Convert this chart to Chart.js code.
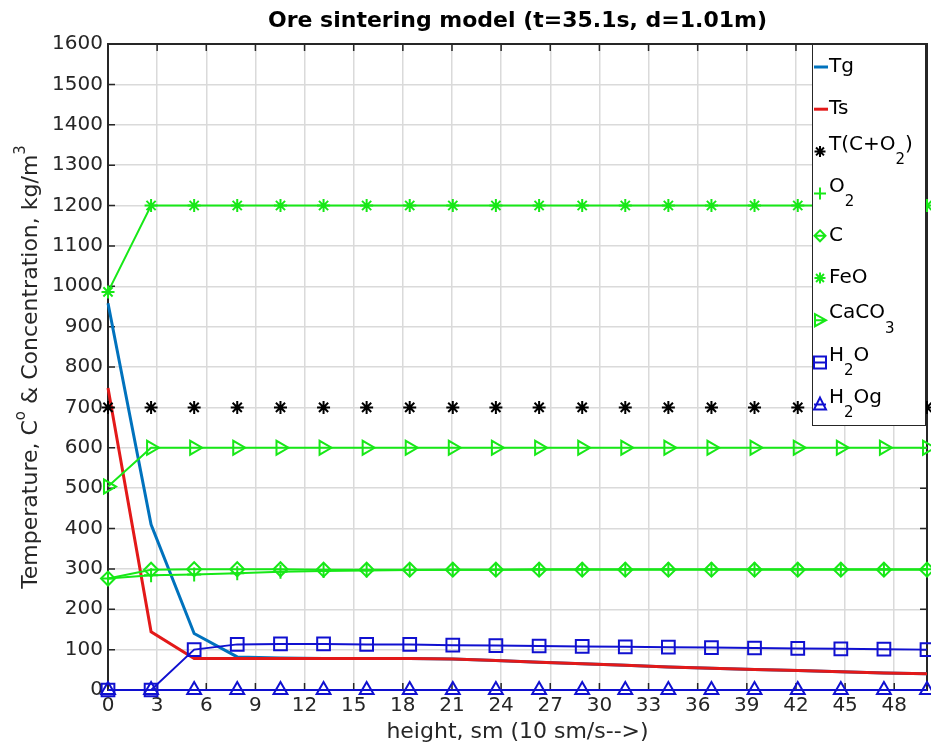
<!DOCTYPE html>
<html>
<head>
<meta charset="utf-8">
<script src="https://cdn.jsdelivr.net/npm/chart.js@4.4.0/dist/chart.umd.min.js"></script>
<style>
  html, body { margin: 0; padding: 0; background: #fff; overflow: hidden; }
  canvas { display: block; }
</style>
</head>
<body>
<canvas id="myChart" width="931" height="747"></canvas>
<script>
var heights = [0, 2.63, 5.26, 7.89, 10.53, 13.16, 15.79, 18.42, 21.05, 23.68, 26.32, 28.95, 31.58, 34.21, 36.84, 39.47, 42.11, 44.74, 47.37, 50];
var tg    = [958, 410, 140, 82, 79, 78, 78, 78, 77, 73, 69, 65, 61, 57, 54, 51, 48, 45, 42, 40];
var ts    = [748, 144, 78, 78, 78, 78, 78, 78, 77, 73, 69, 65, 61, 57, 54, 51, 48, 45, 42, 40];
var tco2  = [700, 700, 700, 700, 700, 700, 700, 700, 700, 700, 700, 700, 700, 700, 700, 700, 700, 700, 700, 700];
var o2    = [276, 284, 286, 289, 293, 295, 296, 297, 298, 298, 299, 299, 299, 299, 299, 299, 299, 299, 299, 299];
var carb  = [276, 298, 299, 299, 299, 298, 298, 298, 298, 298, 298, 298, 298, 298, 298, 298, 298, 298, 298, 298];
var feo   = [986, 1200, 1200, 1200, 1200, 1200, 1200, 1200, 1200, 1200, 1200, 1200, 1200, 1200, 1200, 1200, 1200, 1200, 1200, 1200];
var caco3 = [504, 600, 600, 600, 600, 600, 600, 600, 600, 600, 600, 600, 600, 600, 600, 600, 600, 600, 600, 600];
var h2o   = [0, 0, 100, 113, 114, 114, 113, 113, 111, 110, 109, 108, 107, 106, 105, 104, 103, 102, 101, 100];
var h2og  = [0, 0, 0, 0, 0, 0, 0, 0, 0, 0, 0, 0, 0, 0, 0, 0, 0, 0, 0, 0];

var xTicks = [0, 3, 6, 9, 12, 15, 18, 21, 24, 27, 30, 33, 36, 39, 42, 45, 48];
var yTicks = [0, 100, 200, 300, 400, 500, 600, 700, 800, 900, 1000, 1100, 1200, 1300, 1400, 1500, 1600];

var GREEN = "#17e817";
var BLUE = "#1010d0";
var TEXT = "#262626";

function pts(ys) {
    return ys.map(function (v, i) { return { x: heights[i], y: v }; });
}

function series(label, ys, color, opts) {
    var d = {
        label: label,
        data: pts(ys),
        borderColor: color,
        backgroundColor: "rgba(0,0,0,0)",
        pointBorderColor: color,
        pointBackgroundColor: "rgba(0,0,0,0)",
        borderWidth: 2,
        pointBorderWidth: 2,
        pointRadius: 0,
        pointHoverRadius: 0,
        tension: 0,
        fill: false,
        clip: false,
    };
    for (var k in opts) d[k] = opts[k];
    return d;
}

var datasets = [
    series("Tg", tg, "#0072BD", { borderWidth: 3 }),
    series("Ts", ts, "#e31919", { borderWidth: 3 }),
    series("T(C+O2)", tco2, "#000000", { showLine: false, pointStyle: "star", pointRadius: 6.5, pointBorderWidth: 2 }),
    series("O2", o2, GREEN, { pointStyle: "cross", pointRadius: 7 }),
    series("C", carb, GREEN, { pointStyle: "rectRot", pointRadius: 7 }),
    series("FeO", feo, GREEN, { pointStyle: "star", pointRadius: 6.5 }),
    series("CaCO3", caco3, GREEN, { pointStyle: "triangle", pointRotation: 90, pointRadius: 8 }),
    series("H2O", h2o, BLUE, { pointStyle: "rect", pointRadius: 9 }),
    series("H2Og", h2og, BLUE, { pointStyle: "triangle", pointRadius: 8 }),
];
// later series are drawn on top, as in the original plot
datasets.forEach(function (d, i) { d.order = datasets.length - i; });

var legendItems = [
    { parts: [["Tg", 0]], kind: "line", color: "#0072BD" },
    { parts: [["Ts", 0]], kind: "line", color: "#e31919" },
    { parts: [["T(C+O", 0], ["2", 1], [")", 0]], kind: "star", color: "#000000" },
    { parts: [["O", 0], ["2", 1]], kind: "cross", color: GREEN },
    { parts: [["C", 0]], kind: "diamond", color: GREEN },
    { parts: [["FeO", 0]], kind: "star", color: GREEN },
    { parts: [["CaCO", 0], ["3", 1]], kind: "triR", color: GREEN },
    { parts: [["H", 0], ["2", 1], ["O", 0]], kind: "square", color: BLUE },
    { parts: [["H", 0], ["2", 1], ["Og", 0]], kind: "triU", color: BLUE },
];

function drawMark(c, kind, x, y, color) {
    c.save();
    c.strokeStyle = color;
    c.lineWidth = 2;
    c.beginPath();
    if (kind === "line") {
        c.lineWidth = 3;
        c.moveTo(x - 6, y); c.lineTo(x + 8, y);
    } else if (kind === "star") {
        var r = 5.5;
        c.moveTo(x - r, y); c.lineTo(x + r, y);
        c.moveTo(x, y - r); c.lineTo(x, y + r);
        var q = r * 0.72;
        c.moveTo(x - q, y - q); c.lineTo(x + q, y + q);
        c.moveTo(x - q, y + q); c.lineTo(x + q, y - q);
    } else if (kind === "cross") {
        c.moveTo(x - 6, y); c.lineTo(x + 6, y);
        c.moveTo(x, y - 6); c.lineTo(x, y + 6);
    } else if (kind === "diamond") {
        c.moveTo(x, y - 5.5); c.lineTo(x + 5.5, y); c.lineTo(x, y + 5.5); c.lineTo(x - 5.5, y); c.closePath();
        c.moveTo(x - 5.5, y); c.lineTo(x + 5.5, y);
    } else if (kind === "triR") {
        c.moveTo(x - 5, y - 6); c.lineTo(x + 6, y); c.lineTo(x - 5, y + 6); c.closePath();
        c.moveTo(x - 5, y); c.lineTo(x + 6, y);
    } else if (kind === "square") {
        c.rect(x - 6, y - 6, 12, 12);
        c.moveTo(x - 6, y); c.lineTo(x + 6, y);
    } else if (kind === "triU") {
        c.moveTo(x, y - 7); c.lineTo(x + 6, y + 5); c.lineTo(x - 6, y + 5); c.closePath();
        c.moveTo(x - 6, y); c.lineTo(x + 6, y);
    }
    c.stroke();
    c.restore();
}

function drawParts(c, parts, x, y, size, subSize, shift) {
    var hasSub = parts.some(function (p) { return p[1] === 1; });
    var base = hasSub ? y - 7 : y;
    c.textBaseline = "middle";
    c.textAlign = "left";
    parts.forEach(function (p) {
        if (p[1] === 1) {
            c.font = subSize + "px 'DejaVu Sans'";
            c.fillText(p[0], x, base + shift);
        } else {
            c.font = size + "px 'DejaVu Sans'";
            c.fillText(p[0], x, base);
        }
        x += c.measureText(p[0]).width;
    });
}

var decorations = {
    id: "decorations",
    beforeDatasetsDraw: function (chart) {
        var c = chart.ctx, a = chart.chartArea;
        var xs = chart.scales.x, ys = chart.scales.y;
        c.save();
        c.strokeStyle = TEXT;
        c.lineWidth = 1.5;
        c.beginPath();
        xTicks.forEach(function (v) {
            var px = xs.getPixelForValue(v);
            c.moveTo(px, a.bottom); c.lineTo(px, a.bottom - 7);
            c.moveTo(px, a.top); c.lineTo(px, a.top + 7);
        });
        yTicks.forEach(function (v) {
            var py = ys.getPixelForValue(v);
            c.moveTo(a.left, py); c.lineTo(a.left + 7, py);
            c.moveTo(a.right, py); c.lineTo(a.right - 7, py);
        });
        c.stroke();
        c.lineWidth = 2;
        c.strokeRect(a.left, a.top, a.right - a.left, a.bottom - a.top);
        c.restore();
    },
    afterDatasetsDraw: function (chart) {
        var c = chart.ctx, a = chart.chartArea;
        var bx = 812, bw = a.right - 2 - bx, by = a.top, bh = 381;
        c.save();
        c.fillStyle = "#ffffff";
        c.fillRect(bx, by, bw, bh);
        c.strokeStyle = TEXT;
        c.lineWidth = 1;
        c.strokeRect(bx + 0.5, by + 0.5, bw, bh);
        c.fillStyle = "#000000";
        legendItems.forEach(function (it, i) {
            var y = by + 23 + i * 42.2;
            drawMark(c, it.kind, 820, y, it.color);
            drawParts(c, it.parts, 829, y, 20, 15, 16);
        });
        c.restore();
    },
    afterDraw: function (chart) {
        var c = chart.ctx, a = chart.chartArea;
        var cx = (a.left + a.right) / 2;
        c.save();
        c.fillStyle = "#000000";
        c.textAlign = "center";
        c.textBaseline = "middle";
        c.font = "bold 22px 'DejaVu Sans'";
        c.fillText("Ore sintering model (t=35.1s, d=1.01m)", cx, 21);

        c.fillStyle = TEXT;
        c.font = "22px 'DejaVu Sans'";
        c.fillText("height, sm (10 sm/s-->)", cx, 732);

        // y title with superscripts
        var parts = [["Temperature, C", 0], ["o", 1], [" & Concentration, kg/m", 0], ["3", 1]];
        var total = 0;
        parts.forEach(function (p) {
            c.font = (p[1] ? "15px" : "22px") + " 'DejaVu Sans'";
            total += c.measureText(p[0]).width;
        });
        c.translate(31, (a.top + a.bottom) / 2);
        c.rotate(-Math.PI / 2);
        c.textAlign = "left";
        var x = -total / 2;
        parts.forEach(function (p) {
            c.font = (p[1] ? "15px" : "22px") + " 'DejaVu Sans'";
            c.fillText(p[0], x, p[1] ? -10 : 0);
            x += c.measureText(p[0]).width;
        });
        c.restore();
    },
};

var ctx = document.getElementById("myChart").getContext("2d");

var options = {
    responsive: false,
    animation: false,
    devicePixelRatio: 1,
    events: [],
    layout: { autoPadding: false, padding: { top: 44, right: 4, left: 0, bottom: 0 } },
    plugins: {
        legend: { display: false },
        title: { display: false },
        tooltip: { enabled: false },
    },
    scales: {
        x: {
            type: "linear",
            min: 0,
            max: 50,
            afterBuildTicks: function (scale) {
                scale.ticks = xTicks.map(function (v) { return { value: v }; });
            },
            afterFit: function (scale) {
                scale.height = 57;
                scale.paddingLeft = 0;
                scale.paddingRight = 0;
            },
            grid: { color: "#dadada", lineWidth: 1.5, drawTicks: false },
            border: { display: false },
            ticks: {
                autoSkip: false,
                maxRotation: 0,
                padding: 4,
                color: TEXT,
                font: { family: "DejaVu Sans", size: 20 },
                callback: function (v) { return String(v); },
            },
        },
        y: {
            type: "linear",
            min: 0,
            max: 1600,
            afterBuildTicks: function (scale) {
                scale.ticks = yTicks.map(function (v) { return { value: v }; });
            },
            afterFit: function (scale) { scale.width = 108; },
            grid: { color: "#dadada", lineWidth: 1.5, drawTicks: false },
            border: { display: false },
            ticks: {
                autoSkip: false,
                padding: 5,
                color: TEXT,
                font: { family: "DejaVu Sans", size: 20 },
                callback: function (v) { return String(v); },
            },
        },
    },
};

var myChart = new Chart(ctx, {
    type: "line",
    data: { datasets: datasets },
    options: options,
    plugins: [decorations],
});
</script>
</body>
</html>
